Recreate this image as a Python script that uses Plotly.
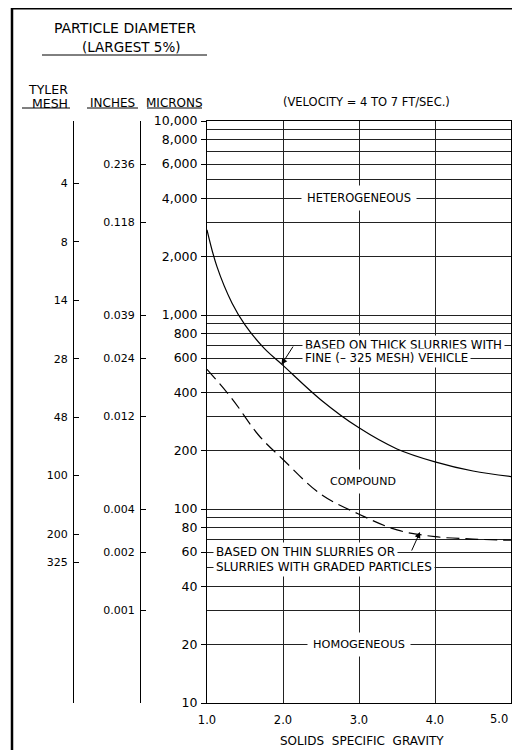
import math
import plotly.graph_objects as go

# ---------------- data ----------------
# thick slurries curve (solid)
sg_thick = [1.0, 1.13, 1.33, 1.5, 1.75, 2.0, 2.5, 3.0, 3.5, 4.0, 4.5, 5.0]
microns_thick = [2750, 1780, 1150, 890, 675, 550, 365, 262, 204, 175, 157, 147]

# thin / graded slurries curve (dashed)
sg_thin = [1.0, 1.33, 1.68, 2.0, 2.5, 3.0, 3.5, 4.0, 4.5, 5.0]
microns_thin = [525, 370, 240, 180, 119, 94, 78, 72, 70, 69]

# microns axis
micron_major = [10000, 8000, 6000, 4000, 2000, 1000, 800, 600, 400, 200, 100, 80, 60, 40, 20, 10]
micron_major_text = ["10,000", "8,000", "6,000", "4,000", "2,000", "1,000", "800", "600",
                     "400", "200", "100", "80", "60", "40", "20", "10"]
micron_minor = [9000, 7000, 5000, 3000, 900, 700, 500, 300, 90, 70, 50, 30]

# Tyler mesh scale (positions in microns)
mesh_labels = ["4", "8", "14", "28", "48", "100", "200", "325"]
mesh_microns = [4760, 2380, 1190, 595, 297, 149, 74, 53]

# inches scale (positions in microns)
inch_labels = ["0.236", "0.118", "0.039", "0.024", "0.012", "0.004", "0.002", "0.001"]
inch_microns = [6000, 3000, 1000, 600, 300, 100, 60, 30]

# specific gravity axis (last label drawn right-aligned at the edge)
sg_ticks = [1, 2, 3, 4, 5]
sg_text = ["1.0", "2.0", "3.0", "4.0", ""]
sg_last_label = "5.0"

# ---------------- layout helpers ----------------
OFF = 8                      # page body margin
W, H = 504, 742              # figure size
ML, MR, MT, MB = 12, 1, 113, 47
FONT = "DejaVu Sans"
X_LEFT, X_UNIT = 207, 76.0   # screen pixel of SG=1.0 and pixels per SG unit


def px(xpix):                # screen pixel -> paper x
    return (xpix - OFF - ML) / (W - ML - MR)


def py(ypix):                # screen pixel -> paper y
    return 1 - ((ypix - OFF) - MT) / (H - MT - MB)


def sgx(xpix):               # screen pixel -> specific gravity
    return 1 + (xpix - X_LEFT) / X_UNIT


L = math.log10

fig = go.Figure()

fig.add_trace(go.Scatter(x=sg_thick, y=microns_thick, mode="lines",
                         line=dict(color="black", width=1.2, shape="spline", smoothing=1.0),
                         hoverinfo="skip", showlegend=False))
fig.add_trace(go.Scatter(x=sg_thin, y=microns_thin, mode="lines",
                         line=dict(color="black", width=1.2, shape="spline", smoothing=1.0,
                                   dash="13px,6px"),
                         hoverinfo="skip", showlegend=False))
# invisible traces so the side scales are drawn
fig.add_trace(go.Scatter(x=[1] * len(mesh_microns), y=mesh_microns, yaxis="y2", mode="markers",
                         marker=dict(opacity=0), hoverinfo="skip", showlegend=False))
fig.add_trace(go.Scatter(x=[1] * len(inch_microns), y=inch_microns, yaxis="y3", mode="markers",
                         marker=dict(opacity=0), hoverinfo="skip", showlegend=False))

x_dom0 = px(X_LEFT)

fig.update_layout(
    width=W, height=H, autosize=False,
    margin=dict(l=ML, r=MR, t=MT, b=MB),
    paper_bgcolor="white", plot_bgcolor="white",
    showlegend=False,
    font=dict(family=FONT, color="black"),
    xaxis=dict(domain=[x_dom0, 1], range=[1, 5], tickvals=sg_ticks, ticktext=sg_text,
               showgrid=True, gridcolor="#222", gridwidth=1, zeroline=False,
               showline=True, linecolor="black", linewidth=1, mirror=True,
               ticks="", ticklabelstandoff=6, tickfont=dict(size=11.5, family=FONT),
               automargin=False),
    yaxis=dict(type="log", range=[1, 4], tickvals=micron_major, ticktext=micron_major_text,
               showgrid=True, gridcolor="#222", gridwidth=1, zeroline=False,
               showline=True, linecolor="black", linewidth=1, mirror=True,
               ticks="outside", ticklen=5, tickcolor="black", ticklabelstandoff=1,
               tickfont=dict(size=12.5, family=FONT),
               minor=dict(tickvals=micron_minor, showgrid=True, gridcolor="#222",
                          gridwidth=1, ticks=""),
               automargin=False),
    yaxis2=dict(type="log", range=[1, 4], overlaying="y", anchor="free", position=px(73),
                side="left", tickvals=mesh_microns, ticktext=mesh_labels,
                showgrid=False, zeroline=False, showline=True, linecolor="black", linewidth=1,
                ticks="inside", ticklen=5, tickcolor="black", ticklabelstandoff=3,
                tickfont=dict(size=11, family=FONT), automargin=False),
    yaxis3=dict(type="log", range=[1, 4], overlaying="y", anchor="free", position=px(140),
                side="left", tickvals=inch_microns, ticktext=inch_labels,
                showgrid=False, zeroline=False, showline=True, linecolor="black", linewidth=1,
                ticks="inside", ticklen=5, tickcolor="black", ticklabelstandoff=3,
                tickfont=dict(size=11, family=FONT), automargin=False),
)

ann = []


def paper_text(text, xpix, ypix, size):
    ann.append(dict(text=text, x=px(xpix), y=py(ypix), xref="paper", yref="paper",
                    xanchor="center", yanchor="middle", showarrow=False,
                    font=dict(size=size, family=FONT, color="black")))


paper_text("PARTICLE DIAMETER", 125, 28, 14)
paper_text("(LARGEST 5%)", 131, 47, 13.5)
paper_text("TYLER", 48, 90, 12.5)
paper_text("MESH", 50, 103, 12.5)
paper_text("INCHES", 112, 103, 12)
paper_text("MICRONS", 174, 103, 12)
paper_text("(VELOCITY = 4 TO 7 FT/SEC.)", 366, 102, 11.5)
paper_text("SOLIDS\u00a0 SPECIFIC\u00a0 GRAVITY", 362, 741, 12)

# last x tick label, right-aligned so it stays inside the picture
ann.append(dict(text=sg_last_label, x=sg_ticks[-1], y=py(719), xref="x", yref="paper",
                xanchor="right", yanchor="middle", showarrow=False, xshift=-1,
                font=dict(size=11.5, family=FONT, color="black")))


def data_text(text, x, yval, xanchor="center", pad=4, size=11.5):
    ann.append(dict(text=text, x=x, y=L(yval), xref="x", yref="y", xanchor=xanchor,
                    yanchor="middle", showarrow=False, bgcolor="white", borderpad=pad,
                    font=dict(size=size, family=FONT, color="black")))


data_text("HETEROGENEOUS", 3.0, 4000, pad=5)
data_text("BASED ON THICK SLURRIES WITH", sgx(302), 700, xanchor="left", pad=2, size=11.8)
data_text("FINE (– 325 MESH) VEHICLE", sgx(302), 600, xanchor="left", pad=2, size=11.8)
data_text("COMPOUND", 3.05, 139, pad=5, size=11)
data_text("BASED ON THIN SLURRIES OR", sgx(213), 60, xanchor="left", pad=2, size=12)
data_text("SLURRIES WITH GRADED PARTICLES", sgx(213), 50, xanchor="left", pad=2, size=12)
data_text("HOMOGENEOUS", 3.0, 20, pad=5, size=11.3)

# leader arrows
ann.append(dict(text="", x=1.98, y=L(555), xref="x", yref="y",
                ax=sgx(294), ay=L(700), axref="x", ayref="y",
                showarrow=True, arrowhead=2, arrowsize=1.2, arrowwidth=1, arrowcolor="black",
                standoff=0, startstandoff=0))
ann.append(dict(text="", x=sgx(420), y=L(76), xref="x", yref="y",
                ax=sgx(411), ay=L(60), axref="x", ayref="y",
                showarrow=True, arrowhead=2, arrowsize=1.2, arrowwidth=1, arrowcolor="black",
                standoff=0, startstandoff=0))

fig.update_layout(annotations=ann)

shapes = []
# outer frame (left and top visible)
shapes.append(dict(type="line", xref="paper", yref="paper", x0=px(12), x1=px(12),
                   y0=py(7), y1=py(770), line=dict(color="black", width=2.5)))
shapes.append(dict(type="line", xref="paper", yref="paper", x0=px(11), x1=px(540),
                   y0=py(8.2), y1=py(8.2), line=dict(color="black", width=2.5)))
# header underlines
for x0, x1, yy in [(42, 207, 55), (22, 70, 108), (87, 138, 108), (147, 202, 108)]:
    shapes.append(dict(type="line", xref="paper", yref="paper", x0=px(x0), x1=px(x1),
                       y0=py(yy), y1=py(yy), line=dict(color="black", width=1)))
fig.update_layout(shapes=shapes)

fig.write_html("out.html")
